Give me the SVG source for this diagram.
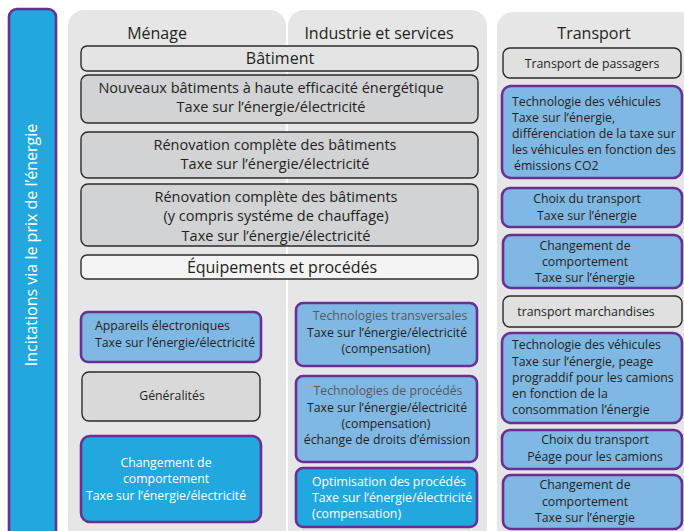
<svg xmlns="http://www.w3.org/2000/svg" width="684" height="531" viewBox="0 0 684 531">
<style>
text{font-family:"Open Sans","Noto Sans","Liberation Sans",sans-serif;fill:#231f20}
.panel{fill:#e6e6e6}
.grey{fill:#d2d3d5;stroke:#2b2b2b;stroke-width:1.4}
.lgrey{fill:#e4e4e5;stroke:#2b2b2b;stroke-width:1.4}
.white{fill:#f4f4f4;stroke:#2b2b2b;stroke-width:1.4}
.lblue{fill:#80b8e4;stroke:#6a2f95;stroke-width:2.6}
.dblue{fill:#22a7df;stroke:#6a2f95;stroke-width:2.6}
.h{font-size:16px}
.b{font-size:14.5px}
.s{font-size:12.3px}
.c{text-anchor:middle}
.w{fill:#ffffff}
.g{fill:#58595b}
</style>
<g id="left-bar">
<rect x="9" y="9" width="47" height="530" rx="8" class="dblue"/>
<text class="w" font-size="16" text-anchor="middle" transform="translate(37 245) rotate(-90)">Incitations via le prix de l’énergie</text>
</g>
<g id="panels">
<rect x="68" y="10" width="218" height="540" rx="16" class="panel"/>
<rect x="288" y="10" width="199" height="540" rx="16" class="panel"/>
<rect x="497" y="12" width="200" height="540" rx="16" class="panel"/>
<text class="h c" x="157" y="39">Ménage</text>
<text class="h c" x="379" y="39">Industrie et services</text>
<text class="h c" x="594" y="39">Transport</text>
</g>
<g id="batiment">
<rect x="81" y="46" width="397" height="25" rx="6" class="lgrey"/>
<text class="h c" x="280" y="64">Bâtiment</text>
</g>
<g id="nouveaux">
<rect x="81" y="75" width="397" height="48" rx="7" class="grey"/>
<text class="b c" x="271" y="93">Nouveaux bâtiments à haute efficacité énergétique</text>
<text class="b c" x="271" y="112">Taxe sur l’énergie/électricité</text>
</g>
<g id="renovation">
<rect x="81" y="132" width="397" height="46" rx="7" class="grey"/>
<text class="b c" x="275" y="150">Rénovation complète des bâtiments</text>
<text class="b c" x="275" y="169">Taxe sur l’énergie/électricité</text>
</g>
<g id="renovation-chauffage">
<rect x="81" y="184" width="397" height="62" rx="7" class="grey"/>
<text class="b c" x="276" y="202">Rénovation complète des bâtiments</text>
<text class="b c" x="276" y="221">(y compris systéme de chauffage)</text>
<text class="b c" x="276" y="241">Taxe sur l’énergie/électricité</text>
</g>
<g id="equipements">
<rect x="81" y="255" width="397" height="24" rx="6" class="white"/>
<text class="h c" x="282" y="273">Équipements et procédés</text>
</g>
<g id="appareils">
<rect x="81" y="312" width="180" height="50" rx="7" class="lblue"/>
<text class="s" x="95" y="330">Appareils électroniques</text>
<text class="s" x="95" y="347">Taxe sur l’énergie/électricité</text>
</g>
<g id="generalites">
<rect x="82" y="372" width="178" height="49" rx="7" class="grey" style="fill:#d9d9da"/>
<text class="s c" x="172" y="400">Généralités</text>
</g>
<g id="changement-menage">
<rect x="81" y="436" width="180" height="86" rx="9" class="dblue"/>
<text class="s c w" x="166" y="467">Changement de</text>
<text class="s c w" x="166" y="483">comportement</text>
<text class="s c w" x="166" y="500">Taxe sur l’énergie/électricité</text>
</g>
<g id="technologies-transversales">
<rect x="296" y="303" width="181" height="63" rx="7" class="lblue"/>
<text class="s c g" x="390" y="320">Technologies transversales</text>
<text class="s c" x="387" y="337">Taxe sur l’énergie/électricité</text>
<text class="s c" x="386" y="353">(compensation)</text>
</g>
<g id="technologies-procedes">
<rect x="296" y="376" width="181" height="86" rx="7" class="lblue"/>
<text class="s c g" x="388" y="395">Technologies de procédés</text>
<text class="s c" x="387" y="412">Taxe sur l’énergie/électricité</text>
<text class="s c" x="386" y="428">(compensation)</text>
<text class="s c" x="387" y="444">échange de droits d’émission</text>
</g>
<g id="optimisation">
<rect x="296" y="468" width="181" height="59" rx="7" class="dblue"/>
<text class="s w" x="312" y="486">Optimisation des procédés</text>
<text class="s w" x="312" y="502">Taxe sur l’énergie/électricité</text>
<text class="s w" x="312" y="518">(compensation)</text>
</g>
<g id="transport-passagers">
<rect x="503" y="48" width="178" height="30" rx="7" class="lgrey" style="fill:#e0e0e1"/>
<text class="s c" x="592" y="68">Transport de passagers</text>
</g>
<g id="technologie-vehicules">
<rect x="502" y="86" width="180" height="92" rx="9" class="lblue"/>
<text class="s" x="512" y="106">Technologie des véhicules</text>
<text class="s" x="512" y="122">Taxe sur l’énergie,</text>
<text class="s" x="512" y="138">différenciation de la taxe sur</text>
<text class="s" x="512" y="154">les véhicules en fonction des</text>
<text class="s" x="514" y="170">émissions CO2</text>
</g>
<g id="choix-transport">
<rect x="502" y="188" width="180" height="39" rx="8" class="lblue"/>
<text class="s c" x="587" y="203">Choix du transport</text>
<text class="s c" x="587" y="220">Taxe sur l’énergie</text>
</g>
<g id="changement-transport">
<rect x="503" y="235" width="179" height="53" rx="8" class="lblue"/>
<text class="s c" x="585" y="250">Changement de</text>
<text class="s c" x="585" y="266">comportement</text>
<text class="s c" x="585" y="282">Taxe sur l’énergie</text>
</g>
<g id="transport-marchandises">
<rect x="503" y="296" width="179" height="31" rx="7" class="lgrey" style="fill:#e0e0e1"/>
<text class="s c" x="586" y="316">transport marchandises</text>
</g>
<g id="technologie-vehicules-marchandises">
<rect x="502" y="333" width="180" height="90" rx="9" class="lblue"/>
<text class="s" x="512" y="349">Technologie des véhicules</text>
<text class="s" x="512" y="366">Taxe sur l’énergie, peage</text>
<text class="s" x="512" y="382">prograddif pour les camions</text>
<text class="s" x="512" y="398">en fonction de la</text>
<text class="s" x="512" y="414">consommation l’énergie</text>
</g>
<g id="choix-transport-marchandises">
<rect x="502" y="430" width="180" height="39" rx="8" class="lblue"/>
<text class="s c" x="595" y="444">Choix du transport</text>
<text class="s c" x="595" y="461">Péage pour les camions</text>
</g>
<g id="changement-transport-marchandises">
<rect x="503" y="475" width="179" height="54" rx="8" class="lblue"/>
<text class="s c" x="585" y="489">Changement de</text>
<text class="s c" x="585" y="506">comportement</text>
<text class="s c" x="585" y="522">Taxe sur l’énergie</text>
</g>
<g id="connectors"/>
</svg>
